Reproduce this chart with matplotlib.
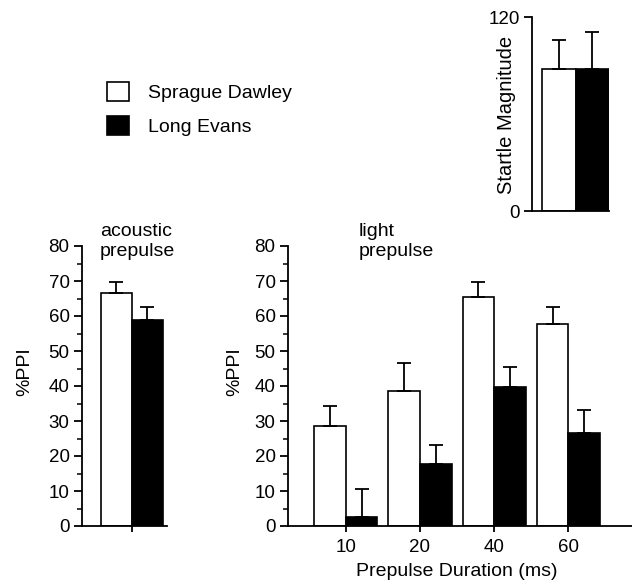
import numpy as np
import matplotlib.pyplot as plt
from matplotlib.patches import Patch

plt.rcParams['font.family'] = ['Liberation Sans', 'DejaVu Sans']
plt.rcParams['font.size'] = 14

strains = ["Sprague Dawley", "Long Evans"]
colors = ["white", "black"]

# startle magnitude
startle = [88, 88]
startle_err = [18, 23]

# acoustic prepulse %PPI
acoustic = [66.5, 59.0]
acoustic_err = [3.3, 3.7]

# light prepulse %PPI by duration
durations = ["10", "20", "40", "60"]
light_sd = [28.7, 38.6, 65.3, 57.7]
light_sd_err = [5.6, 7.9, 4.5, 5.0]
light_le = [2.7, 17.6, 39.8, 26.5]
light_le_err = [7.8, 5.5, 5.7, 6.6]

W, H = 632, 583
fig = plt.figure(figsize=(W / 100, H / 100), dpi=100)

def ax_px(x0, x1, y0, y1):
    # pixel box -> figure axes
    return fig.add_axes([x0 / W, (H - y0) / H, (x1 - x0) / W, (y0 - y1) / H])

def style(ax):
    for s in ["top", "right"]:
        ax.spines[s].set_visible(False)
    for s in ["left", "bottom"]:
        ax.spines[s].set_linewidth(1.3)
    ax.tick_params(direction="out", width=1.3, labelsize=13.5)
    ax.tick_params(axis="y", length=6, pad=3)
    ax.tick_params(axis="x", length=4, pad=5)
    ax.tick_params(which="minor", direction="out", width=1.1, length=3.5)

ekw = dict(elinewidth=1.3, capthick=1.3, ecolor="black", capsize=5)

# startle inset
ax0 = ax_px(532, 609, 211, 17)
style(ax0)
for i in range(2):
    ax0.bar(i, startle[i], width=1, color=colors[i], edgecolor="black", linewidth=1.2,
            yerr=[[0], [startle_err[i]]], error_kw=ekw, zorder=2)
ax0.set_xlim(-0.8, 1.5)
ax0.set_ylim(0, 120)
ax0.set_yticks([0, 120])
ax0.set_xticks([])
ax0.set_ylabel("Startle Magnitude", fontsize=14.5, va="center")
ax0.yaxis.set_label_coords(-0.325, 0.497)

# acoustic panel
ax1 = ax_px(82, 167, 526, 246)
style(ax1)
for i in range(2):
    ax1.bar(i, acoustic[i], width=1, color=colors[i], edgecolor="black", linewidth=1.2,
            yerr=[[0], [acoustic_err[i]]], error_kw=ekw, zorder=2)
ax1.set_xlim(-1.113, 1.63)
ax1.set_ylim(0, 80)
ax1.set_yticks(np.arange(0, 81, 10))
ax1.set_yticks(np.arange(0, 81, 5), minor=True)
ax1.set_xticks([0.5])
ax1.set_xticklabels([""])
ax1.set_ylabel("%PPI", va="center")
ax1.yaxis.set_label_coords(-0.67, 0.55)
ax1.text(100 / W, 1 - 223 / H, "acoustic\nprepulse", transform=fig.transFigure,
         va="top", ha="left", fontsize=14, linespacing=1.2)

# light panel
ax2 = ax_px(288, 632, 526, 246)
style(ax2)
x = np.arange(len(durations))
bw = 0.426
ax2.bar(x - bw / 2, light_sd, width=bw, color=colors[0], edgecolor="black", linewidth=1.2,
        yerr=[np.zeros(len(x)), light_sd_err], error_kw=ekw, zorder=2)
ax2.bar(x + bw / 2, light_le, width=bw, color=colors[1], edgecolor="black", linewidth=1.2,
        yerr=[np.zeros(len(x)), light_le_err], error_kw=ekw, zorder=2)
ax2.set_xlim(-0.778, 3.858)
ax2.set_ylim(0, 80)
ax2.set_yticks(np.arange(0, 81, 10))
ax2.set_yticks(np.arange(0, 81, 5), minor=True)
ax2.set_xticks(x)
ax2.set_xticklabels(durations)
ax2.set_ylabel("%PPI", va="center")
ax2.yaxis.set_label_coords(-0.154, 0.55)
ax2.set_xlabel("Prepulse Duration (ms)", va="center")
ax2.xaxis.set_label_coords(0.491, -0.164)
ax2.text(359 / W, 1 - 223 / H, "light\nprepulse", transform=fig.transFigure,
         va="top", ha="left", fontsize=14, linespacing=1.2)

# legend
handles = [Patch(facecolor=c, edgecolor="black", linewidth=1.2) for c in colors]
fig.legend(handles, strains, loc="upper left", bbox_to_anchor=(107 / W, 1 - 82 / H),
           frameon=False, borderpad=0, borderaxespad=0, handlelength=1.15,
           handleheight=1.15, handletextpad=0.95, labelspacing=0.7, fontsize=14)

fig.savefig("out.png", dpi=100)
